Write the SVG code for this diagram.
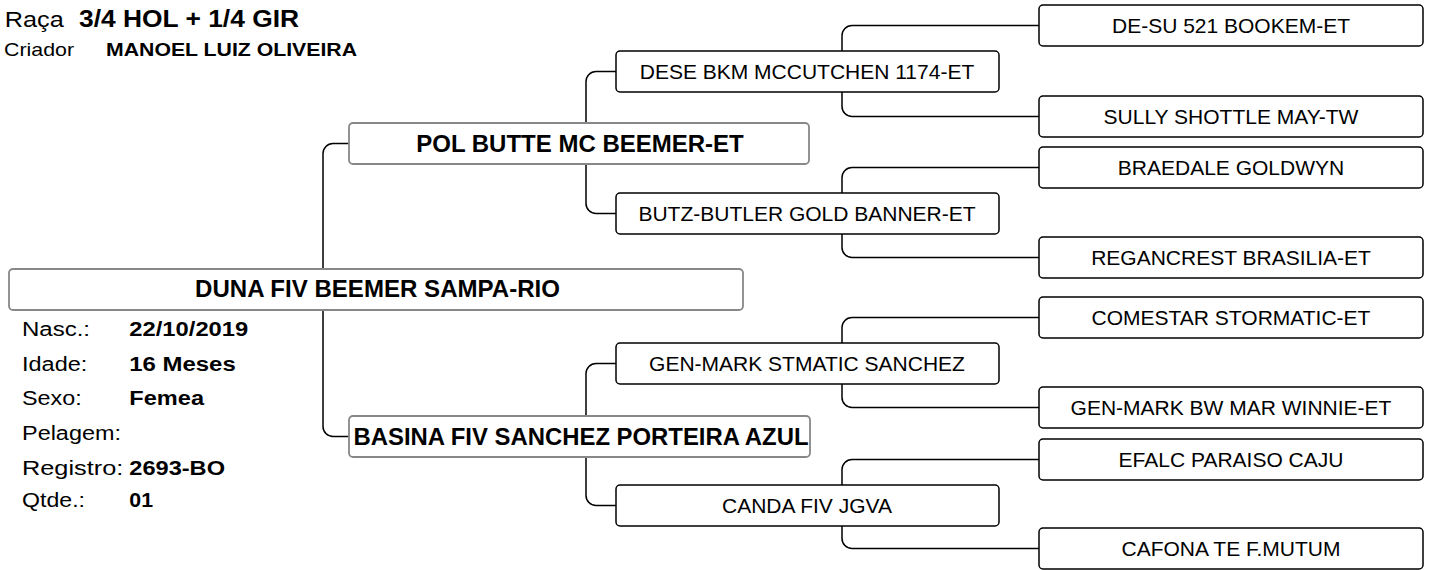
<svg xmlns="http://www.w3.org/2000/svg" width="1431" height="570" viewBox="0 0 1431 570">
<style>
text{font-family:"Liberation Sans",Arial,sans-serif;fill:#000}
.b{font-weight:bold}
.c{text-anchor:middle}
.main rect{fill:#fff;stroke:#888;stroke-width:1.8}
.anc rect{fill:#fff;stroke:#000;stroke-width:1.5}
.anc text{font-size:21px}
.main text{font-size:24px;font-weight:bold}
#connectors path{fill:none;stroke:#000;stroke-width:1.5}
.lbl{font-size:19.5px}
.val{font-size:20px;font-weight:bold}
</style>
<rect width="1431" height="570" fill="#fff"/>
<g id="header">
<text x="4.7" y="26.7" font-size="22" textLength="59" lengthAdjust="spacingAndGlyphs">Raça</text>
<text x="79" y="27" class="b" font-size="23" textLength="220" lengthAdjust="spacingAndGlyphs">3/4 HOL + 1/4 GIR</text>
<text x="4" y="55.5" font-size="18.5" textLength="70" lengthAdjust="spacingAndGlyphs">Criador</text>
<text x="106" y="55.5" class="b" font-size="18.5" textLength="251" lengthAdjust="spacingAndGlyphs">MANOEL LUIZ OLIVEIRA</text>
</g>
<g id="connectors">
<path d="M323,269 V153.5 A10,10 0 0 1 333,143.5 H349"/>
<path d="M323,310 V426.5 A10,10 0 0 0 333,436.5 H349"/>
<path d="M586,123 V81.5 A10,10 0 0 1 596,71.5 H616"/>
<path d="M586,164 V203.5 A10,10 0 0 0 596,213.5 H616"/>
<path d="M586,416 V373.5 A10,10 0 0 1 596,363.5 H616"/>
<path d="M586,457 V495.5 A10,10 0 0 0 596,505.5 H616"/>
<path d="M842,51 V35.5 A10,10 0 0 1 852,25.5 H1039"/>
<path d="M842,92 V106.5 A10,10 0 0 0 852,116.5 H1039"/>
<path d="M842,193 V177.5 A10,10 0 0 1 852,167.5 H1039"/>
<path d="M842,234 V247.5 A10,10 0 0 0 852,257.5 H1039"/>
<path d="M842,343 V327.5 A10,10 0 0 1 852,317.5 H1039"/>
<path d="M842,384 V397.5 A10,10 0 0 0 852,407.5 H1039"/>
<path d="M842,485 V469.5 A10,10 0 0 1 852,459.5 H1039"/>
<path d="M842,526 V538.5 A10,10 0 0 0 852,548.5 H1039"/>
</g>
<g id="subject" class="main">
<rect x="9" y="269" width="734" height="41" rx="4"/>
<text x="377.5" y="297" class="c" textLength="365" lengthAdjust="spacingAndGlyphs" style="font-size:23px">DUNA FIV BEEMER SAMPA-RIO</text>
</g>
<g id="sire" class="main">
<rect x="349" y="123" width="460" height="41" rx="4"/>
<text x="580" y="151.5" class="c">POL BUTTE MC BEEMER-ET</text>
</g>
<g id="dam" class="main">
<rect x="349" y="416" width="461" height="41" rx="4"/>
<text x="581" y="444.5" class="c" textLength="455" lengthAdjust="spacingAndGlyphs">BASINA FIV SANCHEZ PORTEIRA AZUL</text>
</g>
<g id="ss" class="anc">
<rect x="616" y="51" width="383" height="41" rx="4"/>
<text x="807" y="78.5" class="c">DESE BKM MCCUTCHEN 1174-ET</text>
</g>
<g id="sd" class="anc">
<rect x="616" y="193" width="383" height="41" rx="4"/>
<text x="807" y="220.5" class="c">BUTZ-BUTLER GOLD BANNER-ET</text>
</g>
<g id="ds" class="anc">
<rect x="616" y="343" width="383" height="41" rx="4"/>
<text x="807" y="370.5" class="c">GEN-MARK STMATIC SANCHEZ</text>
</g>
<g id="dd" class="anc">
<rect x="616" y="485" width="383" height="41" rx="4"/>
<text x="807" y="512.5" class="c">CANDA FIV JGVA</text>
</g>
<g id="sss" class="anc">
<rect x="1039" y="5" width="384" height="41" rx="4"/>
<text x="1231" y="32.5" class="c">DE-SU 521 BOOKEM-ET</text>
</g>
<g id="ssd" class="anc">
<rect x="1039" y="96" width="384" height="41" rx="4"/>
<text x="1231" y="123.5" class="c">SULLY SHOTTLE MAY-TW</text>
</g>
<g id="sds" class="anc">
<rect x="1039" y="147" width="384" height="41" rx="4"/>
<text x="1231" y="174.5" class="c">BRAEDALE GOLDWYN</text>
</g>
<g id="sdd" class="anc">
<rect x="1039" y="237" width="384" height="41" rx="4"/>
<text x="1231" y="264.5" class="c">REGANCREST BRASILIA-ET</text>
</g>
<g id="dss" class="anc">
<rect x="1039" y="297" width="384" height="41" rx="4"/>
<text x="1231" y="324.5" class="c">COMESTAR STORMATIC-ET</text>
</g>
<g id="dsd" class="anc">
<rect x="1039" y="387" width="384" height="41" rx="4"/>
<text x="1231" y="414.5" class="c">GEN-MARK BW MAR WINNIE-ET</text>
</g>
<g id="dds" class="anc">
<rect x="1039" y="439" width="384" height="41" rx="4"/>
<text x="1231" y="466.5" class="c">EFALC PARAISO CAJU</text>
</g>
<g id="ddd" class="anc">
<rect x="1039" y="528" width="384" height="41" rx="4"/>
<text x="1231" y="555.5" class="c">CAFONA TE F.MUTUM</text>
</g>
<g id="info">
<text x="22" y="336" class="lbl" textLength="68" lengthAdjust="spacingAndGlyphs">Nasc.:</text>
<text x="129.3" y="336" class="val" textLength="119" lengthAdjust="spacingAndGlyphs">22/10/2019</text>
<text x="22" y="370.5" class="lbl" textLength="65.3" lengthAdjust="spacingAndGlyphs">Idade:</text>
<text x="129.3" y="370.5" class="val" textLength="106.4" lengthAdjust="spacingAndGlyphs">16 Meses</text>
<text x="22" y="405" class="lbl" textLength="59.7" lengthAdjust="spacingAndGlyphs">Sexo:</text>
<text x="129.3" y="405" class="val" textLength="74.7" lengthAdjust="spacingAndGlyphs">Femea</text>
<text x="22" y="440" class="lbl" textLength="99" lengthAdjust="spacingAndGlyphs">Pelagem:</text>
<text x="22" y="474.5" class="lbl" textLength="101.3" lengthAdjust="spacingAndGlyphs">Registro:</text>
<text x="129.3" y="474.5" class="val" textLength="95.7" lengthAdjust="spacingAndGlyphs">2693-BO</text>
<text x="22" y="507" class="lbl" textLength="63" lengthAdjust="spacingAndGlyphs">Qtde.:</text>
<text x="129.3" y="507" class="val" textLength="23.7" lengthAdjust="spacingAndGlyphs">01</text>
</g>
</svg>
